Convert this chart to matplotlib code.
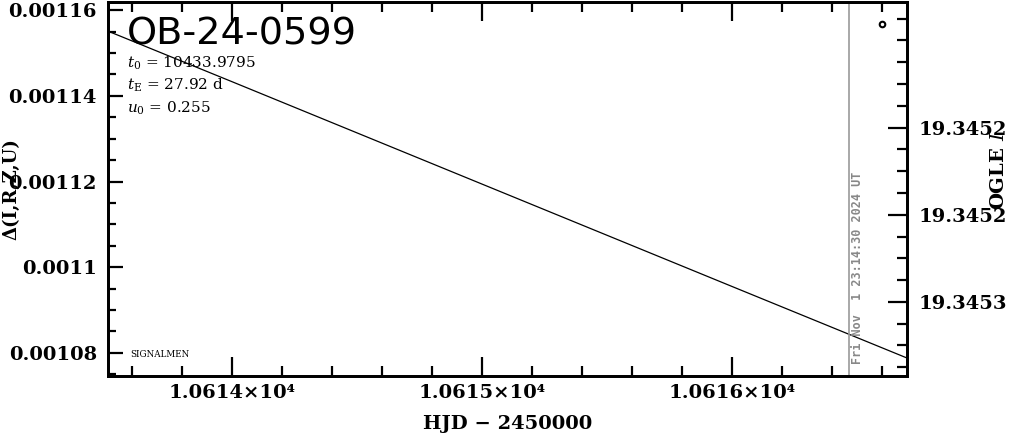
import numpy as np
import matplotlib
matplotlib.use("Agg")
import matplotlib.pyplot as plt
from matplotlib.ticker import FixedLocator, MultipleLocator

# ───────── data ─────────
hjd = [10613.504, 10614.0, 10615.0, 10616.0, 10616.70]
model_flux = [0.0011551, 0.0011433, 0.0011194, 0.0010955, 0.0010788]

x_major = [10614, 10615, 10616]
x_labels = ["1.0614×10⁴", "1.0615×10⁴", "1.0616×10⁴"]
y_major = [0.00108, 0.0011, 0.00112, 0.00114, 0.00116]
y_labels = ["0.00108", "0.0011", "0.00112", "0.00114", "0.00116"]
mag_major = [19.3452, 19.34525, 19.3453]
mag_labels = ["19.3452", "19.3452", "19.3453"]

now_line = 10616.468
event = "OB-24-0599"
params = [r"$t_0$ = 10433.9795", r"$t_{\rm E}$ = 27.92 d", r"$u_0$ = 0.255"]
stamp = "Fri Nov  1 23:14:30 2024 UT"

xlim = (10613.504, 10616.70)
ylim = (0.0010746, 0.0011619)
mag_lim = (19.3453425, 19.345128)

# ───────── figure ─────────
plt.rcParams["font.family"] = ["DejaVu Serif"]
plt.rcParams["mathtext.fontset"] = "dejavuserif"

fig = plt.figure(figsize=(10.11, 4.34), dpi=100)
ax = fig.add_axes([108 / 1011, 1 - 376 / 434, 799 / 1011, 374 / 434])

ax.plot(hjd, model_flux, color="black", lw=0.9)
ax.axvline(now_line, color="#999999", lw=1.2)

ax.set_xlim(*xlim)
ax.set_ylim(*ylim)

ax.xaxis.set_major_locator(FixedLocator(x_major))
ax.set_xticklabels(x_labels, fontsize=14, fontweight="bold")
ax.xaxis.set_minor_locator(MultipleLocator(0.2))
ax.yaxis.set_major_locator(FixedLocator(y_major))
ax.set_yticklabels(y_labels, fontsize=14, fontweight="bold")
ax.yaxis.set_minor_locator(MultipleLocator(0.000005))

ax.tick_params(which="both", direction="in", top=True, right=False, width=1.6)
ax.tick_params(axis="x", which="major", length=14, pad=6)
ax.tick_params(axis="x", which="minor", length=7)
ax.tick_params(axis="y", which="major", length=11, pad=8)
ax.tick_params(axis="y", which="minor", length=6)
for s in ax.spines.values():
    s.set_linewidth(2)

ax.set_xlabel("HJD − 2450000", fontsize=14, fontweight="bold", labelpad=9)
ax.set_ylabel("Δ(I,R,Z,U)", fontsize=13, fontweight="bold")
ax.yaxis.set_label_coords(-0.110, 0.5)

# right magnitude axis
ax2 = ax.twinx()
ax2.set_ylim(*mag_lim)
ax2.yaxis.set_major_locator(FixedLocator(mag_major))
ax2.set_yticklabels(mag_labels, fontsize=14, fontweight="bold")
ax2.yaxis.set_minor_locator(MultipleLocator(0.0000125))
ax2.tick_params(which="both", direction="in", width=1.6)
ax2.tick_params(which="major", length=14, pad=8)
ax2.tick_params(which="minor", length=7)
for s in ax2.spines.values():
    s.set_linewidth(2)
ax2.set_ylabel("OGLE $I$", fontsize=14, fontweight="bold", rotation=90)
ax2.yaxis.set_label_coords(1.104, 0.55)

# annotations
ax.text(0.024, 0.962, event, transform=ax.transAxes, fontsize=27.5,
        family="DejaVu Sans", va="top", ha="left")
for i, p in enumerate(params):
    ax.text(0.024, 0.837 - i * 0.06, p, transform=ax.transAxes, fontsize=11,
            va="center", ha="left")
ax.text(0.028, 0.058, "SIGNALMEN", transform=ax.transAxes, fontsize=6.3,
        va="center", ha="left")
ax.text(now_line + 0.035, 0.00108 - 0.0000025, stamp, rotation=90, color="#888888",
        fontsize=8.5, fontweight="bold", family="DejaVu Sans Mono",
        va="bottom", ha="center")
ax.plot([0.969], [0.942], transform=ax.transAxes, marker="o", ms=4,
        mfc="none", mec="black", mew=1.5)

fig.savefig("out.png", dpi=100)
